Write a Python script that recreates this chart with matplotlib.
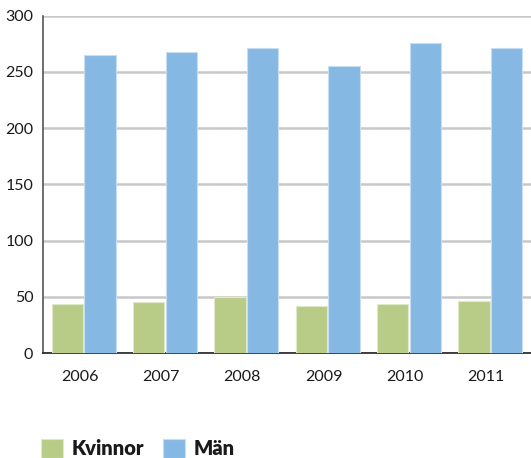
import numpy as np
import matplotlib.pyplot as plt

plt.rcParams['font.family'] = ['Lato', 'DejaVu Sans']

years = ["2006", "2007", "2008", "2009", "2010", "2011"]
kvinnor = [44, 45, 50, 42, 44, 46]
man = [265, 268, 271, 255, 276, 271]

green = '#b8cc88'
blue = '#85b9e3'

fig = plt.figure(figsize=(5.31, 4.58), dpi=100)
ax = fig.add_axes([0.081, 0.229, 0.919, 0.737])

x = np.arange(len(years))
w = 0.385
ax.bar(x - 0.2, kvinnor, w, color=green, edgecolor='#dfe8c8', linewidth=0.8,
       label='Kvinnor', zorder=3)
ax.bar(x + 0.2, man, w, color=blue, edgecolor='#c6ddf2', linewidth=0.8,
       label='Män', zorder=3)

ax.set_xlim(-0.5, len(years) - 0.5)
ax.set_ylim(0, 300)
ax.set_yticks(range(0, 301, 50))
ax.set_xticks(x - 0.05)
ax.set_xticklabels(years)
ax.grid(axis='y', color='#c8c8c8', linewidth=1.8, zorder=0)

for side in ['top', 'right']:
    ax.spines[side].set_visible(False)
ax.spines['left'].set_color('#555555')
ax.spines['left'].set_linewidth(1.2)
ax.spines['bottom'].set_color('#222222')
ax.spines['bottom'].set_linewidth(1.2)
ax.tick_params(axis='both', length=0, labelsize=11.5, colors='#1a1a1a')
ax.tick_params(axis='x', pad=12)
ax.tick_params(axis='y', pad=7)

fig.legend(loc='lower left', bbox_to_anchor=(0.044, -0.04), ncol=2,
           frameon=False, prop={'weight': 'heavy', 'size': 14.5},
           handlelength=1.08, handleheight=1.08, handletextpad=0.42,
           columnspacing=0.95, labelcolor='#1a1a1a')

fig.savefig('out.png', dpi=100)
